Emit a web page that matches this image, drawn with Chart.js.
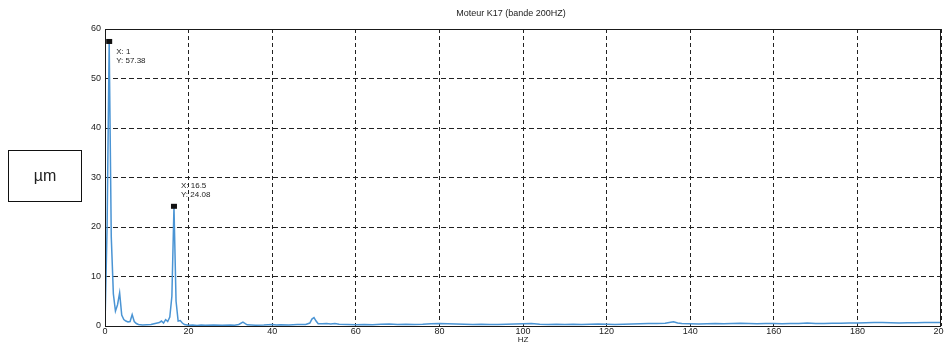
<!DOCTYPE html>
<html>
<head>
<meta charset="utf-8">
<script src="https://cdn.jsdelivr.net/npm/chart.js@4"></script>
<style>
  body { margin: 0; background: #fff; overflow: hidden; }
  #wrap { position: relative; width: 944px; height: 345px; }
  #unit {
    position: absolute; left: 8px; top: 150px; width: 72px; height: 50px;
    border: 1.5px solid #111; font-family: 'Liberation Sans', Arial, sans-serif;
    font-size: 16px; color: #222; display: flex; align-items: center; justify-content: center;
  }
</style>
</head>
<body>
<div id="wrap">
  <canvas id="spectre"></canvas>
  <div id="unit">µm</div>
</div>
<script>
const freqHz = [
  0, 0.5, 1, 1.5, 2, 2.5, 3, 3.5, 4, 4.5, 5, 5.5, 6, 6.5, 7, 7.5, 8, 9, 10, 11, 12, 13, 13.5, 14, 14.5, 15, 15.5, 16, 16.5, 17, 17.5, 18, 18.5, 19,
  20, 21, 22, 23, 24, 26, 28, 30, 31, 32, 33, 34, 35, 36, 38, 40, 41, 42, 44, 46, 48, 49, 49.5, 50, 50.5, 51, 52, 53, 54, 55, 56, 58,
  60, 62, 64, 66, 68, 70, 72, 74, 76, 78, 80, 82, 84, 86, 88, 90, 92, 94, 96, 98,
  100, 102, 104, 106, 108, 110, 112, 114, 116, 118, 120, 122, 124, 126, 128, 130, 132, 134, 135, 136, 137, 138,
  140, 142, 144, 146, 148, 150, 152, 154, 156, 158, 160, 162, 164, 166, 168, 170, 172, 174, 176, 178,
  180, 182, 184, 186, 188, 190, 192, 194, 196, 198, 200
];
const amplitude = [
  0.3, 20, 57.38, 18, 6.5, 3.0, 4.3, 6.7, 2.2, 1.3, 1.0, 0.8, 0.9, 2.3, 0.9, 0.5, 0.3, 0.2, 0.25, 0.3, 0.5, 0.7, 1.0, 0.6, 1.3, 0.9, 1.8, 6, 24.08, 5, 1.0, 1.1, 0.6, 0.3,
  0.15, 0.2, 0.1, 0.2, 0.15, 0.2, 0.15, 0.2, 0.15, 0.3, 0.8, 0.25, 0.2, 0.15, 0.2, 0.3, 0.2, 0.25, 0.2, 0.3, 0.3, 0.6, 1.4, 1.7, 1.0, 0.45, 0.45, 0.5, 0.4, 0.5, 0.35, 0.3,
  0.25, 0.3, 0.25, 0.35, 0.4, 0.3, 0.35, 0.3, 0.35, 0.45, 0.5, 0.45, 0.4, 0.35, 0.3, 0.35, 0.3, 0.3, 0.35, 0.4,
  0.45, 0.5, 0.35, 0.3, 0.35, 0.3, 0.35, 0.3, 0.35, 0.4, 0.35, 0.3, 0.35, 0.4, 0.45, 0.5, 0.5, 0.55, 0.7, 0.85, 0.6, 0.5,
  0.45, 0.4, 0.45, 0.5, 0.45, 0.5, 0.55, 0.5, 0.45, 0.5, 0.5, 0.45, 0.5, 0.5, 0.6, 0.5, 0.5, 0.55, 0.55, 0.6,
  0.6, 0.65, 0.7, 0.7, 0.65, 0.6, 0.65, 0.65, 0.7, 0.7, 0.7
];
const xTicks = [0, 20, 40, 60, 80, 100, 120, 140, 160, 180, 200];
const yTicks = [0, 10, 20, 30, 40, 50, 60];

// Curseurs de données (data tips)
const tipX = [1, 16.5];
const tipY = [57.38, 24.08];
const tipText = [['X: 1', 'Y: 57.38'], ['X: 16.5', 'Y: 24.08']];
const tipOffset = [[7, 10], [7, -21]];

const FONT = "'Liberation Sans', Arial, sans-serif";

const cadre = {
  id: 'cadre',
  afterDraw(chart) {
    const { ctx, chartArea: a, scales } = chart;
    ctx.save();
    // bordure
    ctx.strokeStyle = '#1a1a1a';
    ctx.lineWidth = 1;
    ctx.strokeRect(a.left + 0.5, a.top + 0.5, a.right - a.left - 1, a.bottom - a.top);
    // titre
    ctx.fillStyle = '#222';
    ctx.font = '9px ' + FONT;
    ctx.textAlign = 'center';
    ctx.textBaseline = 'middle';
    ctx.fillText('Moteur K17 (bande 200HZ)', 511, 14);
    // data tips
    ctx.textAlign = 'left';
    ctx.font = '8px ' + FONT;
    tipX.forEach((x, i) => {
      const px = scales.x.getPixelForValue(x);
      const py = scales.y.getPixelForValue(tipY[i]);
      ctx.fillStyle = '#111';
      ctx.fillRect(px - 3, py - 3, 6, 5);
      ctx.fillStyle = '#222';
      tipText[i].forEach((t, j) => {
        ctx.fillText(t, px + tipOffset[i][0], py + tipOffset[i][1] + j * 9);
      });
    });
    ctx.restore();
  }
};

new Chart(document.getElementById('spectre'), {
  type: 'line',
  data: {
    datasets: [{
      data: freqHz.map((f, i) => ({ x: f, y: amplitude[i] })),
      borderColor: '#4a94d4',
      borderWidth: 1.5,
      pointRadius: 0,
      tension: 0
    }]
  },
  options: {
    responsive: true,
    maintainAspectRatio: false,
    animation: false,
    layout: { padding: { top: 29, right: 3, bottom: 0, left: 0 } },
    plugins: { legend: { display: false }, title: { display: false }, tooltip: { enabled: false } },
    scales: {
      x: {
        type: 'linear', min: 0, max: 200,
        afterBuildTicks: s => { s.ticks = xTicks.map(v => ({ value: v })); },
        afterFit: s => { s.height = 19; s.paddingRight = 0; s.paddingLeft = 0; },
        grid: { color: '#222', lineWidth: 1, drawTicks: false },
        border: { display: false, dash: [4, 3] },
        ticks: { font: { family: FONT, size: 9, lineHeight: 1 }, color: '#222', padding: 1, maxRotation: 0 },
        title: { display: true, text: 'HZ', font: { family: FONT, size: 8, lineHeight: 1 }, color: '#222', padding: { top: 0, bottom: 1 } }
      },
      y: {
        min: 0, max: 60,
        afterBuildTicks: s => { s.ticks = yTicks.map(v => ({ value: v })); },
        afterFit: s => { s.width = 105; },
        grid: { color: '#222', lineWidth: 1, drawTicks: false },
        border: { display: false, dash: [5, 3] },
        ticks: { font: { family: FONT, size: 9 }, color: '#222', padding: 4 }
      }
    }
  },
  plugins: [cadre]
});
</script>
</body>
</html>
